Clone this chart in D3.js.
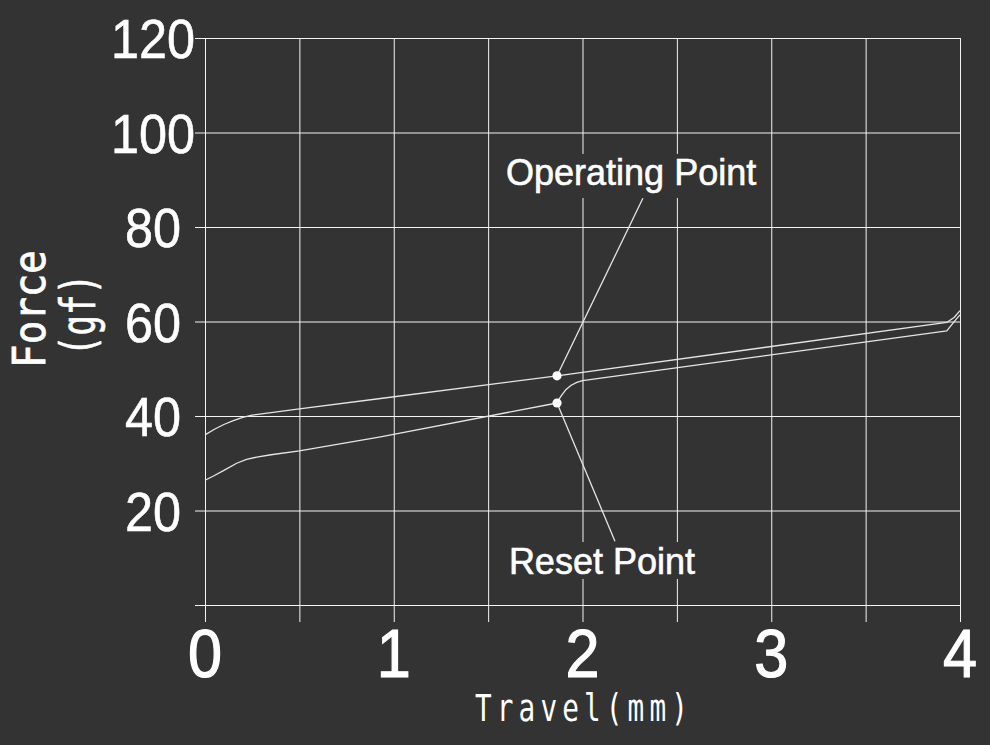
<!DOCTYPE html>
<html>
<head>
<meta charset="utf-8">
<script src="https://cdn.jsdelivr.net/npm/d3@7"></script>
<style>
  html, body { margin: 0; padding: 0; background: #333333; }
  svg { display: block; }
</style>
</head>
<body>
<svg id="chart" width="990" height="745"></svg>
<script>
// ---------- data ----------
const travelTicks = [0, 1, 2, 3, 4];
const travelGrid = [0, 0.5, 1, 1.5, 2, 2.5, 3, 3.5, 4];
const forceTicks = [20, 40, 60, 80, 100, 120];
const forceGrid = [0, 20, 40, 60, 80, 100, 120];

// operating (press) curve
const pressTravel = [0, 0.05, 0.1, 0.15, 0.2, 0.25, 0.5, 0.93, 1.865, 3.93, 3.97, 4.0];
const pressForce  = [36.0, 37.2, 38.2, 39.0, 39.7, 40.2, 41.5, 43.7, 48.5, 59.8, 60.9, 62.3];

// reset (release) curve
const releaseTravel = [0, 0.05, 0.1, 0.168, 0.22, 0.274, 0.35, 0.5, 0.93, 1.865, 1.875, 1.89, 1.91, 1.94, 1.97, 2.0, 3.93, 3.98, 4.0];
const releaseForce  = [26.4, 27.4, 28.5, 30.0, 30.8, 31.3, 31.8, 32.6, 35.6, 42.75, 43.5, 44.4, 45.5, 46.5, 47.1, 47.5, 58.0, 60.5, 61.4];

// annotated points
const pointNames  = ["Operating Point", "Reset Point"];
const pointTravel = [1.865, 1.865];
const pointForce  = [48.5, 42.75];
const labelTravel = [1.595, 1.61];   // text start
const labelForce  = [88.9, 6.56];    // text baseline
const leaderTravel = [2.32, 2.172];  // leader end
const leaderForce  = [86.1, 13.5];

const xTitle = "Travel(mm)";
const yTitle1 = "Force";
const yTitle2 = "(gf)";

// ---------- layout ----------
const svg = d3.select("#chart");
const x = d3.scaleLinear().domain([0, 4]).range([205, 960]);
const y = d3.scaleLinear().domain([0, 120]).range([605, 38]);

svg.append("rect").attr("width", 990).attr("height", 745).attr("fill", "#333333");

// grid via axes
const gridColor = "#f4f4f4";
const hGrid = svg.append("g")
  .attr("transform", `translate(${x(4)},0)`)
  .call(d3.axisLeft(y).tickValues(forceGrid).tickSize(x(4) - 195).tickFormat(""));
const vGrid = svg.append("g")
  .attr("transform", `translate(0,${y(120)})`)
  .call(d3.axisBottom(x).tickValues(travelGrid).tickSize(622 - y(120)).tickFormat(""));
[hGrid, vGrid].forEach(g => {
  g.select(".domain").remove();
  g.selectAll("line").attr("stroke", gridColor).attr("stroke-width", 1);
});

// y tick labels
svg.append("g").selectAll("text").data(forceTicks).join("text")
  .attr("transform", d => `translate(153,${y(d) + 20}) scale(0.9,1)`)
  .attr("text-anchor", "middle")
  .attr("font-family", "Liberation Sans, Arial, sans-serif")
  .attr("font-size", 56)
  .attr("fill", "#ffffff")
  .attr("stroke", "#ffffff")
  .attr("stroke-width", 0.6)
  .text(d => d);

// x tick labels
svg.append("g").selectAll("text").data(travelTicks).join("text")
  .attr("transform", d => `translate(${x(d)},677) scale(0.9,1)`)
  .attr("text-anchor", "middle")
  .attr("font-family", "Liberation Sans, Arial, sans-serif")
  .attr("font-size", 68)
  .attr("fill", "#ffffff")
  .attr("stroke", "#ffffff")
  .attr("stroke-width", 1.2)
  .text(d => d);

// axis titles
svg.append("text")
  .attr("transform", "translate(475,721) scale(0.75,1)")
  .attr("font-family", "DejaVu Sans Mono, monospace")
  .attr("font-size", 37)
  .attr("letter-spacing", 6.8)
  .attr("fill", "#ffffff")
  .text(xTitle);
svg.append("text")
  .attr("transform", "translate(45,309) rotate(-90) scale(0.87,1)")
  .attr("text-anchor", "middle")
  .attr("font-family", "DejaVu Sans Mono, monospace")
  .attr("font-size", 45)
  .attr("fill", "#ffffff")
  .attr("stroke", "#ffffff")
  .attr("stroke-width", 0.8)
  .text(yTitle1);
svg.append("text")
  .attr("transform", "translate(95,315) rotate(-90) scale(0.71,1)")
  .attr("text-anchor", "middle")
  .attr("font-family", "DejaVu Sans Mono, monospace")
  .attr("font-size", 48)
  .attr("fill", "#ffffff")
  .attr("stroke", "#ffffff")
  .attr("stroke-width", 0.6)
  .text(yTitle2);

// curves
const line = d3.line().x(d => x(d[0])).y(d => y(d[1])).curve(d3.curveLinear);
const pressData = pressTravel.map((t, i) => [t, pressForce[i]]);
const releaseData = releaseTravel.map((t, i) => [t, releaseForce[i]]);
[pressData, releaseData].forEach(data => {
  svg.append("path")
    .datum(data)
    .attr("d", line)
    .attr("fill", "none")
    .attr("stroke", "#e6e6e6")
    .attr("stroke-width", 1.3)
    .attr("stroke-linejoin", "round");
});

// leaders
pointNames.forEach((name, i) => {
  svg.append("line")
    .attr("x1", x(pointTravel[i])).attr("y1", y(pointForce[i]))
    .attr("x2", x(leaderTravel[i])).attr("y2", y(leaderForce[i]))
    .attr("stroke", "#e6e6e6").attr("stroke-width", 1.3);
});

// labels with background boxes
pointNames.forEach((name, i) => {
  const t = svg.append("text")
    .attr("x", x(labelTravel[i]))
    .attr("y", y(labelForce[i]))
    .attr("font-family", "Liberation Sans, Arial, sans-serif")
    .attr("font-size", 36)
    .attr("fill", "#ffffff")
    .attr("stroke", "#ffffff")
    .attr("stroke-width", 0.6)
    .text(name);
  const bb = t.node().getBBox();
  const top = i === 0 ? y(labelForce[i]) - 31 : y(labelForce[i]) - 32;
  const bottom = i === 0 ? y(labelForce[i]) + 13 : y(labelForce[i]) + 5;
  svg.insert("rect", () => t.node())
    .attr("x", bb.x - 6).attr("y", top)
    .attr("width", bb.width + 12).attr("height", bottom - top)
    .attr("fill", "#333333");
});

// dots
svg.append("g").selectAll("circle").data(pointNames).join("circle")
  .attr("cx", (d, i) => x(pointTravel[i]))
  .attr("cy", (d, i) => y(pointForce[i]))
  .attr("r", 4.6)
  .attr("fill", "#ffffff");
</script>
</body>
</html>
